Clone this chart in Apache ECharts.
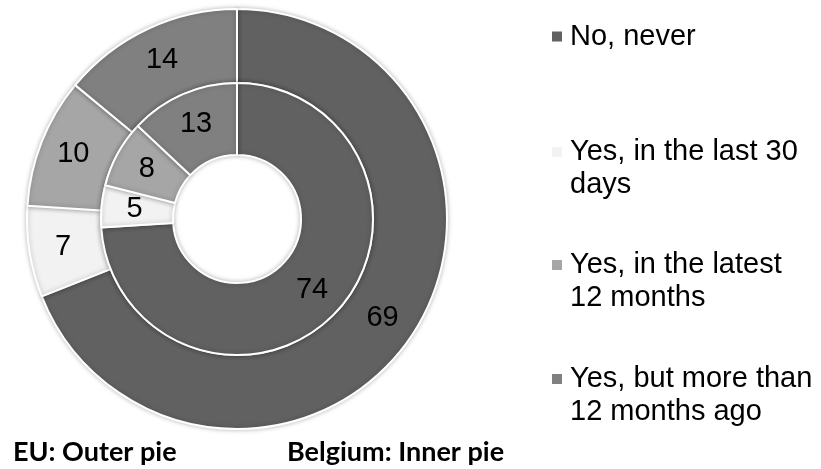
<!DOCTYPE html>
<html>
  <head>
    <meta charset="utf-8" />
    <script src="https://cdn.jsdelivr.net/npm/echarts@6/dist/echarts.min.js"></script>
  </head>
  <body style="margin: 0; background: #fff">
    <div id="main" style="width: 821px; height: 469px"></div>
    <script>
      const categories = ['No, never', 'Yes, in the last 30 days', 'Yes, in the latest 12 months', 'Yes, but more than 12 months ago']
      const legendLines = [['No, never'], ['Yes, in the last 30', 'days'], ['Yes, in the latest', '12 months'], ['Yes, but more than', '12 months ago']]
      const euValues = [69, 7, 10, 14]
      const belgiumValues = [74, 5, 8, 13]
      const colors = ['#616161', '#f2f2f2', '#a6a6a6', '#808080']

      const chart = echarts.init(document.getElementById('main'), null, { renderer: 'canvas' })

      const labelStyle = {
        show: true,
        position: 'inside',
        formatter: '{c}',
        color: '#000',
        fontSize: 29,
        fontFamily: 'Liberation Sans, Arial, sans-serif'
      }

      const toData = (vals) => vals.map((v, i) => ({ name: categories[i], value: v, itemStyle: { color: colors[i] } }))

      // one legend per item. legend text is always centred on the icon, so two-line
      // entries get an empty first line to put the icon next to the real first line
      const legendTops = [20, 102.5, 215.5, 329.5]
      const legends = categories.map((name, i) => ({
        left: 550,
        top: legendTops[i],
        padding: 0,
        itemWidth: 12,
        itemHeight: 12,
        icon: 'rect',
        selectedMode: false,
        data: [name],
        formatter: () => (legendLines[i].length > 1 ? '\n' : '') + legendLines[i].join('\n'),
        textStyle: {
          fontSize: 29,
          lineHeight: 33,
          padding: [0, 0, 0, 2],
          color: '#000',
          fontFamily: 'Liberation Sans, Arial, sans-serif'
        }
      }))

      const option = {
        animation: false,
        color: colors,
        title: [
          {
            text: 'EU: Outer pie',
            left: 13,
            top: 439,
            padding: 0,
            textStyle: { fontFamily: 'Lato', fontWeight: 'bold', fontSize: 27, color: '#000' }
          },
          {
            text: 'Belgium: Inner pie',
            left: 287,
            top: 439,
            padding: 0,
            textStyle: { fontFamily: 'Lato', fontWeight: 'bold', fontSize: 27, color: '#000' }
          }
        ],
        legend: legends,
        series: [
          {
            name: 'EU',
            type: 'pie',
            center: [237, 219],
            radius: [136, 210],
            startAngle: 90,
            clockwise: true,
            avoidLabelOverlap: false,
            label: labelStyle,
            labelLine: { show: false },
            itemStyle: {
              borderColor: '#fff',
              borderWidth: 2,
              shadowBlur: 5,
              shadowColor: 'rgba(0,0,0,0.25)'
            },
            emphasis: { disabled: true },
            data: toData(euValues)
          },
          {
            name: 'Belgium',
            type: 'pie',
            center: [237, 219],
            radius: [64, 136],
            startAngle: 90,
            clockwise: true,
            avoidLabelOverlap: false,
            label: labelStyle,
            labelLine: { show: false },
            itemStyle: {
              borderColor: '#fff',
              borderWidth: 2,
              shadowBlur: 5,
              shadowColor: 'rgba(0,0,0,0.25)'
            },
            emphasis: { disabled: true },
            data: toData(belgiumValues)
          }
        ]
      }

      chart.setOption(option)
    </script>
  </body>
</html>
